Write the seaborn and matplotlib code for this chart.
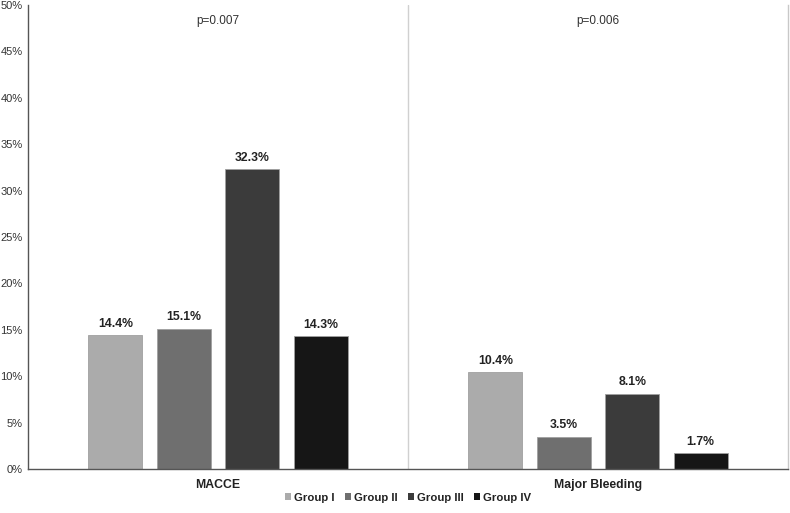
import pandas as pd
import matplotlib.pyplot as plt
import seaborn as sns

# values
outcomes = ["MACCE", "Major Bleeding"]
groups = ["Group I", "Group II", "Group III", "Group IV"]
macce = [14.4, 15.1, 32.3, 14.3]
bleeding = [10.4, 3.5, 8.1, 1.7]
p_values = ["p=0.007", "p=0.006"]
colors = ["#ababab", "#6f6f6f", "#3b3b3b", "#161616"]

df = pd.DataFrame({
    "Outcome": [outcomes[0]] * 4 + [outcomes[1]] * 4,
    "Group": groups * 2,
    "Rate": macce + bleeding,
})

sns.set_style("white")
plt.rcParams["font.family"] = ["Liberation Sans", "DejaVu Sans"]

fig = plt.figure(figsize=(7.9, 5.13), dpi=100)
ax = fig.add_axes([28 / 790, 1 - 469 / 513, 760 / 790, 464 / 513])

sns.barplot(
    data=df, x="Outcome", y="Rate", hue="Group",
    palette=colors, width=0.72, gap=0.21,
    edgecolor="#a0a0a0", linewidth=0.6, ax=ax
)

# value labels
for cont in ax.containers:
    ax.bar_label(cont, fmt="%.1f%%", padding=4, fontsize=8.8, fontweight="bold", color="#222222")

ax.set_ylim(0, 50)
ax.set_xlim(-0.5, 1.5)
ax.set_yticks(range(0, 51, 5))
ax.set_yticklabels([f"{v}%" for v in range(0, 51, 5)], fontsize=8, color="#333333")
ax.set_xticks([0, 1])
ax.set_xticklabels(outcomes, fontsize=8.8, fontweight="bold", color="#222222")
ax.tick_params(axis="y", length=0, pad=4)
ax.tick_params(axis="x", length=0, pad=7)
ax.set_xlabel("")
ax.set_ylabel("")

# divider between outcomes and p-values
ax.axvline(0.5, color="#d0d0d0", linewidth=1)
for i, p in enumerate(p_values):
    ax.text(i, 48.3, p, ha="center", va="center", fontsize=8.5, color="#333333")

ax.spines["top"].set_visible(False)
ax.spines["left"].set_color("#555555")
ax.spines["bottom"].set_color("#555555")
ax.spines["right"].set_color("#c8c8c8")
for s in ["left", "bottom", "right"]:
    ax.spines[s].set_linewidth(1)

leg = ax.legend(
    loc="center", bbox_to_anchor=(0.5, -0.062), ncol=4, frameon=False,
    fontsize=8.2, handlelength=0.55, handleheight=0.55, handletextpad=0.25,
    columnspacing=0.9
)
for t in leg.get_texts():
    t.set_fontweight("bold")
    t.set_color("#222222")
for h in leg.legend_handles:
    h.set_edgecolor("none")

fig.savefig("out.png", dpi=100)
